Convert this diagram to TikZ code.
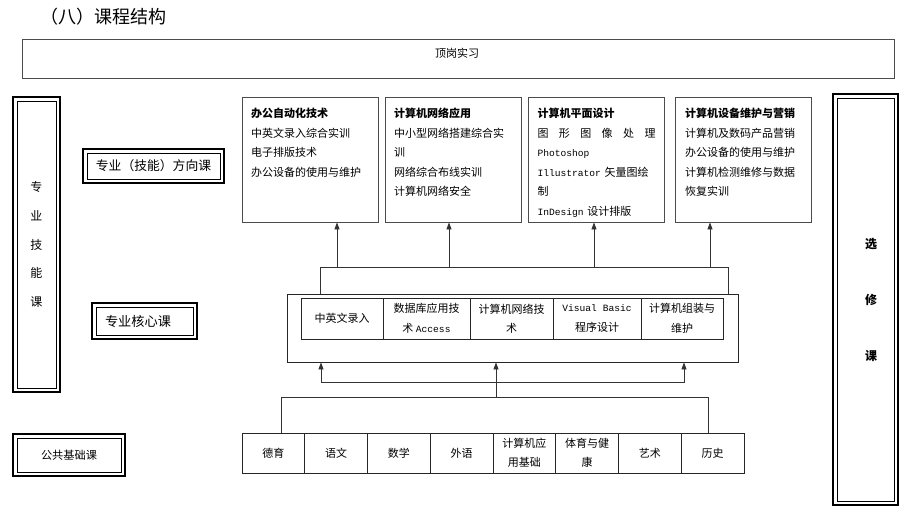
\documentclass[tikz,border=0pt]{standalone}
\usepackage{fontspec}
\setmainfont{Noto Sans CJK SC}
\newfontfamily\latinmono{Liberation Mono}
\usetikzlibrary{arrows.meta}

\tikzset{
  box/.style={draw=black!70, line width=0.8pt, inner sep=0pt},
  cell/.style={draw=black!85, line width=0.8pt, inner sep=0pt, align=center,
    font=\fontsize{11}{19.5}\selectfont},
  tagbox/.style={draw, line width=1.8pt, inner sep=0pt, align=center,
    path picture={\draw[line width=0.6pt]
      ([shift={(4.2pt,4.2pt)}]path picture bounding box.south west) rectangle
      ([shift={(-4.2pt,-4.2pt)}]path picture bounding box.north east);}},
  list/.style={anchor=north west, align=left, text width=124pt, inner sep=0pt,
    font=\fontsize{11}{19.6}\selectfont},
}
\newcommand{\mono}[1]{{\latinmono\fontsize{9.6}{10}\selectfont #1}}

\begin{document}
\begin{tikzpicture}[x=1pt, y=-1pt, >={Triangle[length=7pt, width=5pt]}, line width=0.8pt]

    \useasboundingbox (0,0) rectangle (916,527);

    % ================================================================================================
    % 标题与顶岗实习
    % ================================================================================================
    \node [anchor=west, inner sep=0pt, font=\fontsize{18}{18}\selectfont] (title) at (40,17) {（八）课程结构};

    \node [box, minimum width=872pt, minimum height=39pt] (intern) at (458,58.5) {};
    \node [inner sep=0pt, font=\fontsize{11}{11}\selectfont] (intern-label) at (457,53) {顶岗实习};

    % ================================================================================================
    % 方向课
    % ================================================================================================
    \foreach \n/\x in {1/310, 2/453, 3/596.5, 4/743}
    \node [box, minimum width=136pt, minimum height=125pt] (dir-\n) at (\x,159.5) {};

    \node [list] (dir-1-text) at ([shift={(9,11)}]dir-1.north west)
    {\textbf{办公自动化技术}\\中英文录入综合实训\\电子排版技术\\办公设备的使用与维护};

    \node [list] (dir-2-text) at ([shift={(9,11)}]dir-2.north west)
    {\textbf{计算机网络应用}\\中小型网络搭建综合实\\训\\网络综合布线实训\\计算机网络安全};

    \node [list] (dir-3-text) at ([shift={(9,11)}]dir-3.north west)
    {\textbf{计算机平面设计}\\\leavevmode\hbox to 118pt{图\hfil 形\hfil 图\hfil 像\hfil 处\hfil 理}\\\mono{Photoshop}\\\mono{Illustrator} 矢量图绘\\制\\\mono{InDesign} 设计排版};

    \node [list] (dir-4-text) at ([shift={(10,11)}]dir-4.north west)
    {\textbf{计算机设备维护与营销}\\计算机及数码产品营销\\办公设备的使用与维护\\计算机检测维修与数据\\恢复实训};

    % ================================================================================================
    % 核心课
    % ================================================================================================
    \node [box, draw=black!85, minimum width=451pt, minimum height=68pt] (core) at (512.5,328) {};

    \foreach \n/\x/\w/\t in {1/342/82/中英文录入, 2/426.5/87/{数据库应用技\\术 \mono{Access}},
                             3/511.5/83/{计算机网络技\\术}, 4/597/88/{\mono{Visual Basic}\\程序设计},
                             5/682/82/{计算机组装与\\维护}}
    \node [cell, minimum width=\w pt, minimum height=41pt] (core-\n) at (\x,318.5) {\t};

    % ================================================================================================
    % 公共基础课
    % ================================================================================================
    \foreach \t [count=\i] in {德育, 语文, 数学, 外语, {计算机应\\用基础}, {体育与健\\康}, 艺术, 历史}
    \node [cell, minimum width=62.75pt, minimum height=40pt] (base-\i) at ({242+62.75*\i-31.375},453) {\t};

    % ================================================================================================
    % 左右标签
    % ================================================================================================
    \node [tagbox, minimum width=47pt, minimum height=295pt, font=\fontsize{12}{28.75}\selectfont]
    (skill) at (36.5,244.5) {专\\业\\技\\能\\课};

    \node [tagbox, minimum width=141pt, minimum height=34pt, font=\fontsize{12.8}{13}\selectfont]
    (dir-tag) at (153.5,166) {专业（技能）方向课};

    \node [tagbox, minimum width=105pt, minimum height=36pt, text width=79pt, align=left,
    font=\fontsize{13.2}{13}\selectfont] (core-tag) at (144.5,321) {专业核心课};

    \node [tagbox, minimum width=112pt, minimum height=42pt, font=\fontsize{11.2}{12}\selectfont]
    (base-tag) at (69,455) {公共基础课};

    \node [tagbox, minimum width=65pt, minimum height=411pt, text width=23pt, align=right,
    font=\bfseries\fontsize{12}{56}\selectfont] (elective) at (865.5,299.5) {选\\修\\课};

    % ================================================================================================
    % 连接
    % ================================================================================================
    \coordinate (up-L) at (320,267);
    \coordinate (up-R) at (728,267);
    \draw [black!80] (core.north -| up-L) -- (up-L) -- (up-R) -- (core.north -| up-R);

    \foreach \n/\x in {1/337, 2/449, 3/594, 4/710} {
      \coordinate (up-\n) at (\x,267);
      \draw [black!80,->] (up-\n) -- (up-\n |- dir-\n.south);
    }

    \coordinate (low-L) at (281,397);
    \coordinate (low-R) at (708,397);
    \coordinate (low-M) at (496,397);
    \draw [black!80] (base-1.north -| low-L) -- (low-L) -- (low-R) -- (base-8.north -| low-R);
    \draw [black!80,->] (low-M) -- (low-M |- core.south);

    \coordinate (mid-L) at (321,382);
    \coordinate (mid-R) at (684,382);
    \draw [black!80,<->] (mid-L |- core.south) -- (mid-L) -- (mid-R) -- (mid-R |- core.south);

  \end{tikzpicture}
\end{document}
